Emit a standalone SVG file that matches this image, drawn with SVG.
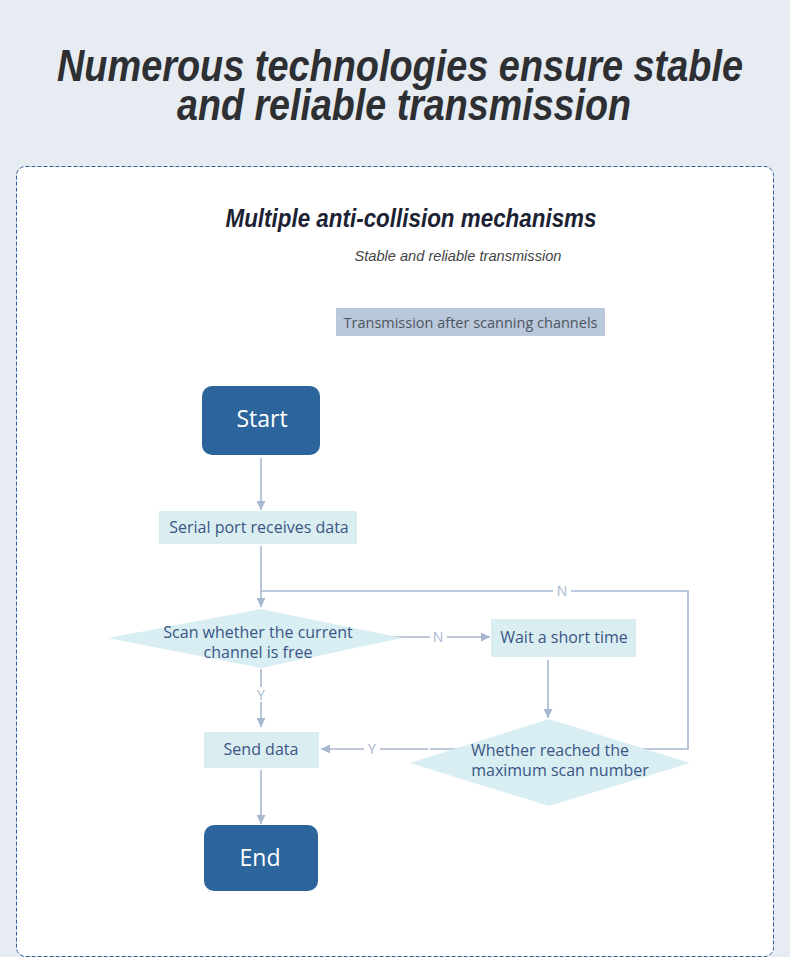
<svg xmlns="http://www.w3.org/2000/svg" width="790" height="957" viewBox="0 0 790 957">
<defs>
<style>
.title{font-family:"Liberation Sans",Arial,sans-serif;font-weight:bold;font-style:italic;fill:#2d2f33;font-size:44px;text-anchor:middle}
.sub{font-family:"Liberation Sans",Arial,sans-serif;font-weight:bold;font-style:italic;fill:#1c2233;font-size:25px;text-anchor:middle}
.sub2{font-family:"Liberation Sans",Arial,sans-serif;font-style:italic;fill:#444;font-size:14.6px;text-anchor:middle}
.lbl{font-family:"Open Sans","Noto Sans",sans-serif;fill:#3a5585;font-size:16px;text-anchor:middle}
.term{font-family:"Open Sans","Noto Sans",sans-serif;fill:#fff;font-size:23px;text-anchor:middle}
.yn{font-family:"Open Sans","Noto Sans",sans-serif;fill:#a7b7cf;font-size:14px;text-anchor:middle}
.conn{fill:none;stroke:#a7b7cf;stroke-width:1.6}
.box{fill:#daeef2}
.dia{fill:#d8eef2}
.tbox{fill:#2c659c}
</style>
<marker id="ah" viewBox="0 0 10 10" refX="10" refY="5" markerWidth="9" markerHeight="9" markerUnits="userSpaceOnUse" orient="auto"><path d="M0,0 L10,5 L0,10 z" fill="#a7b7cf"/></marker>
</defs>
<rect width="790" height="957" fill="#e7ebf2"/>
<text class="title" x="400" y="81" textLength="686" lengthAdjust="spacingAndGlyphs">Numerous technologies ensure stable</text>
<text class="title" x="404" y="120" textLength="454" lengthAdjust="spacingAndGlyphs">and reliable transmission</text>
<rect x="16.5" y="166.5" width="757" height="790" rx="9" fill="#fff" stroke="#2f5f9a" stroke-width="1" stroke-dasharray="4,2"/>
<text class="sub" x="411" y="227" textLength="371" lengthAdjust="spacingAndGlyphs">Multiple anti-collision mechanisms</text>
<text class="sub2" x="458" y="261">Stable and reliable transmission</text>
<g id="header">
<rect x="336" y="308" width="269" height="28" fill="#b9c8da"/>
<text x="470.5" y="328" style="font-family:'Open Sans','Noto Sans',sans-serif;fill:#4f5560;font-size:14.5px;text-anchor:middle">Transmission after scanning channels</text>
</g>
<g id="connectors">
<path class="conn" d="M261,458 V510" marker-end="url(#ah)"/>
<path class="conn" d="M261,546 V607" marker-end="url(#ah)"/>
<path class="conn" d="M430,749 H688 V591 H261"/>
<path class="conn" d="M261,669 V727" marker-end="url(#ah)"/>
<path class="conn" d="M385,637 H490" marker-end="url(#ah)"/>
<path class="conn" d="M548,660 V718" marker-end="url(#ah)"/>
<path class="conn" d="M428,749 H321" marker-end="url(#ah)"/>
<path class="conn" d="M261,770 V824" marker-end="url(#ah)"/>
<rect x="553" y="584" width="18" height="14" fill="#fff"/>
<text class="yn" x="562" y="596">N</text>
<rect x="430" y="630" width="17" height="14" fill="#fff"/>
<text class="yn" x="438" y="642">N</text>
<rect x="253" y="687" width="16" height="15" fill="#fff"/>
<text class="yn" x="261" y="700">Y</text>
<rect x="364" y="742" width="16" height="14" fill="#fff"/>
<text class="yn" x="372" y="754">Y</text>
</g>
<g id="start">
<rect x="202" y="386" width="118" height="69" rx="10" class="tbox"/>
<text class="term" x="262" y="427">Start</text>
</g>
<g id="receive">
<rect x="159" y="511" width="198" height="33" class="box"/>
<text class="lbl" x="259" y="533">Serial port receives data</text>
</g>
<g id="scan">
<polygon points="108,638 261,609 402,638 261,668" class="dia"/>
<text class="lbl" x="258" y="638">Scan whether the current</text>
<text class="lbl" x="258" y="658">channel is free</text>
</g>
<g id="wait">
<rect x="491" y="619" width="145" height="38" class="box"/>
<text class="lbl" x="564" y="643">Wait a short time</text>
</g>
<g id="maxscan">
<polygon points="410,763 549,719 690,763 549,806" class="dia"/>
<text class="lbl" x="550" y="756">Whether reached the</text>
<text class="lbl" x="560" y="776">maximum scan number</text>
</g>
<g id="send">
<rect x="204" y="732" width="115" height="36" class="box"/>
<text class="lbl" x="261" y="755">Send data</text>
</g>
<g id="end">
<rect x="204" y="825" width="114" height="66" rx="10" class="tbox"/>
<text class="term" x="260" y="866">End</text>
</g>
</svg>
